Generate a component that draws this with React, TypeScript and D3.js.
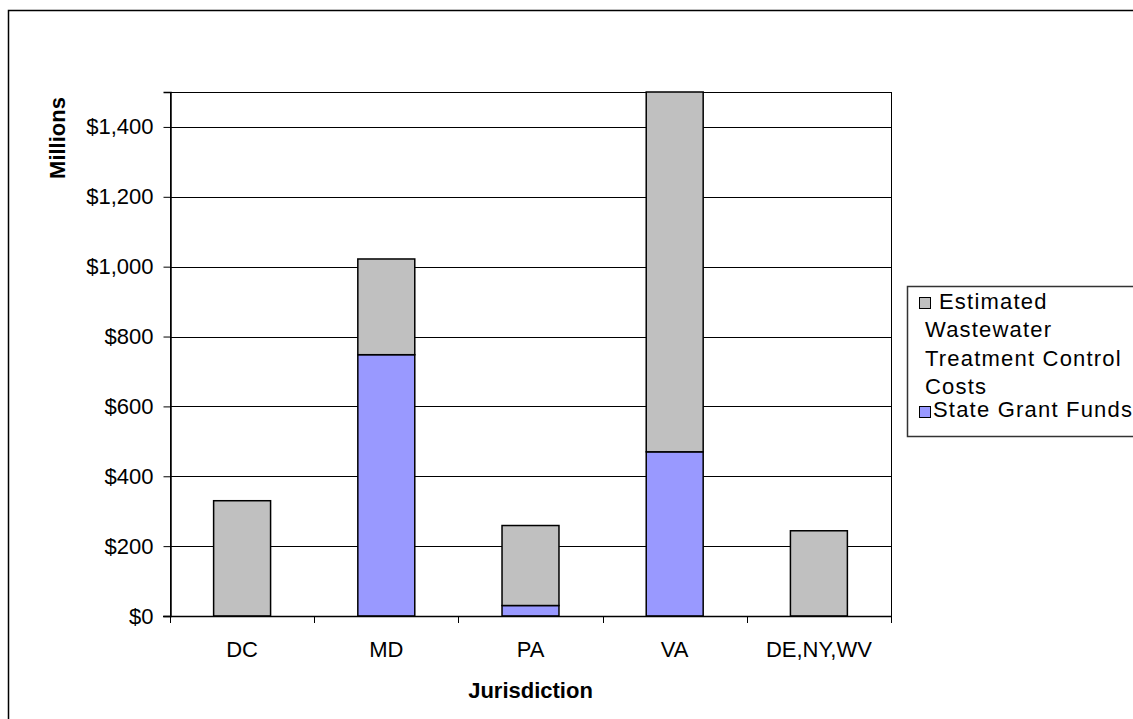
import * as d3 from 'd3';
import React, { useEffect, useRef } from 'react';

// chart data
const jurisdictions = ['DC', 'MD', 'PA', 'VA', 'DE,NY,WV'];
const grantFunds = [0, 748, 30, 470, 0];
const controlCosts = [330, 1022, 259, 1500, 244];
const yTicks = [0, 200, 400, 600, 800, 1000, 1200, 1400];
const legendLines = [
    { text: 'Estimated', dx: 32, dy: 0 },
    { text: 'Wastewater', dx: 18, dy: 28 },
    { text: 'Treatment Control', dx: 18, dy: 57 },
    { text: 'Costs', dx: 18, dy: 85 },
];

const GRAY = '#C0C0C0';
const BLUE = '#9999FF';
const FONT = '"Liberation Sans", Arial, sans-serif';

const App: React.FC = () => {
    const svgRef = useRef<SVGSVGElement>(null);

    useEffect(() => {
        if (!svgRef.current) return;
        d3.select(svgRef.current).selectAll('*').remove();

        const width = 1133;
        const height = 719;
        const left = 170;
        const right = 891;
        const top = 92;
        const bottom = 616;

        const svg = d3.select(svgRef.current)
            .attr('width', width)
            .attr('height', height);

        // outer chart border (runs off the right / bottom of the picture)
        svg.append('rect')
            .attr('x', 8.5)
            .attr('y', 10.5)
            .attr('width', 1200)
            .attr('height', 800)
            .attr('fill', 'white')
            .attr('stroke', '#000')
            .attr('stroke-width', 1.5);

        const x = d3.scaleBand<string>()
            .domain(jurisdictions)
            .range([left, right])
            .paddingInner(0)
            .paddingOuter(0);

        const y = d3.scaleLinear()
            .domain([0, 1500])
            .range([bottom, top]);

        // gridlines
        svg.append('g')
            .selectAll('line')
            .data(yTicks.filter(t => t > 0))
            .join('line')
            .attr('x1', left)
            .attr('x2', right)
            .attr('y1', d => Math.round(y(d)) + 0.5)
            .attr('y2', d => Math.round(y(d)) + 0.5)
            .attr('stroke', '#000')
            .attr('stroke-width', 1);

        // plot area frame
        svg.append('rect')
            .attr('x', left + 0.5)
            .attr('y', top + 0.5)
            .attr('width', right - left)
            .attr('height', bottom - top)
            .attr('fill', 'none')
            .attr('stroke', '#000')
            .attr('stroke-width', 1);

        // bars
        const barW = x.bandwidth() * 0.395;
        const bars = svg.append('g');
        jurisdictions.forEach((j, i) => {
            const cx = (x(j) as number) + x.bandwidth() / 2;
            if (grantFunds[i] > 0) {
                bars.append('rect')
                    .attr('x', cx - barW / 2)
                    .attr('y', y(grantFunds[i]))
                    .attr('width', barW)
                    .attr('height', y(0) - y(grantFunds[i]))
                    .attr('fill', BLUE)
                    .attr('stroke', '#000')
                    .attr('stroke-width', 1.5);
            }
            bars.append('rect')
                .attr('x', cx - barW / 2)
                .attr('y', y(controlCosts[i]))
                .attr('width', barW)
                .attr('height', y(grantFunds[i]) - y(controlCosts[i]))
                .attr('fill', GRAY)
                .attr('stroke', '#000')
                .attr('stroke-width', 1.5);
        });

        // y axis
        const yAxis = d3.axisLeft(y)
            .tickValues(yTicks)
            .tickSize(7)
            .tickPadding(10)
            .tickFormat(d => `$${d3.format(',')(d as number)}`);

        const gy = svg.append('g')
            .attr('transform', `translate(${left + 0.5},0)`)
            .call(yAxis);
        gy.select('.domain').attr('stroke', '#000').attr('stroke-width', 1.5);
        gy.selectAll('text')
            .attr('font-family', FONT)
            .attr('font-size', 22)
            .attr('fill', '#000');

        // x axis: ticks on band boundaries
        svg.append('line')
            .attr('x1', left - 7)
            .attr('x2', right)
            .attr('y1', bottom + 0.5)
            .attr('y2', bottom + 0.5)
            .attr('stroke', '#000')
            .attr('stroke-width', 1.5);

        const bounds = jurisdictions.map(j => x(j) as number).concat([right]);
        svg.append('g')
            .selectAll('line')
            .data(bounds)
            .join('line')
            .attr('x1', d => Math.round(d) + 0.5)
            .attr('x2', d => Math.round(d) + 0.5)
            .attr('y1', bottom)
            .attr('y2', bottom + 7)
            .attr('stroke', '#000')
            .attr('stroke-width', 1);

        svg.append('g')
            .selectAll('text')
            .data(jurisdictions)
            .join('text')
            .attr('x', d => (x(d) as number) + x.bandwidth() / 2)
            .attr('y', 657)
            .attr('text-anchor', 'middle')
            .attr('font-family', FONT)
            .attr('font-size', 22)
            .attr('fill', '#000')
            .text(d => d);

        // axis titles
        svg.append('text')
            .attr('x', (left + right) / 2)
            .attr('y', 698)
            .attr('text-anchor', 'middle')
            .attr('font-family', FONT)
            .attr('font-size', 22)
            .attr('font-weight', 'bold')
            .text('Jurisdiction');

        svg.append('text')
            .attr('transform', 'translate(65,138) rotate(-90)')
            .attr('text-anchor', 'middle')
            .attr('font-family', FONT)
            .attr('font-size', 22)
            .attr('font-weight', 'bold')
            .text('Millions');

        // legend
        const lg = svg.append('g').attr('transform', 'translate(907,286)');
        lg.append('rect')
            .attr('x', 0.5)
            .attr('y', 0.5)
            .attr('width', 300)
            .attr('height', 150)
            .attr('fill', 'white')
            .attr('stroke', '#333')
            .attr('stroke-width', 1.5);

        lg.append('rect')
            .attr('x', 12.5)
            .attr('y', 11.5)
            .attr('width', 11)
            .attr('height', 11)
            .attr('fill', GRAY)
            .attr('stroke', '#000');

        lg.append('rect')
            .attr('x', 12.5)
            .attr('y', 120.5)
            .attr('width', 11)
            .attr('height', 11)
            .attr('fill', BLUE)
            .attr('stroke', '#000');

        lg.selectAll('text.cost')
            .data(legendLines)
            .join('text')
            .attr('class', 'cost')
            .attr('x', d => d.dx)
            .attr('y', d => 23 + d.dy)
            .attr('font-family', FONT)
            .attr('font-size', 22)
            .attr('letter-spacing', 1.2)
            .text(d => d.text);

        lg.append('text')
            .attr('x', 26)
            .attr('y', 131)
            .attr('font-family', FONT)
            .attr('font-size', 22)
            .attr('letter-spacing', 1.2)
            .text('State Grant Funds');
    }, []);

    return (
        <svg
            ref={svgRef}
            style={{ position: 'absolute', left: 0, top: 0, display: 'block' }}
        />
    );
};

export default App;
